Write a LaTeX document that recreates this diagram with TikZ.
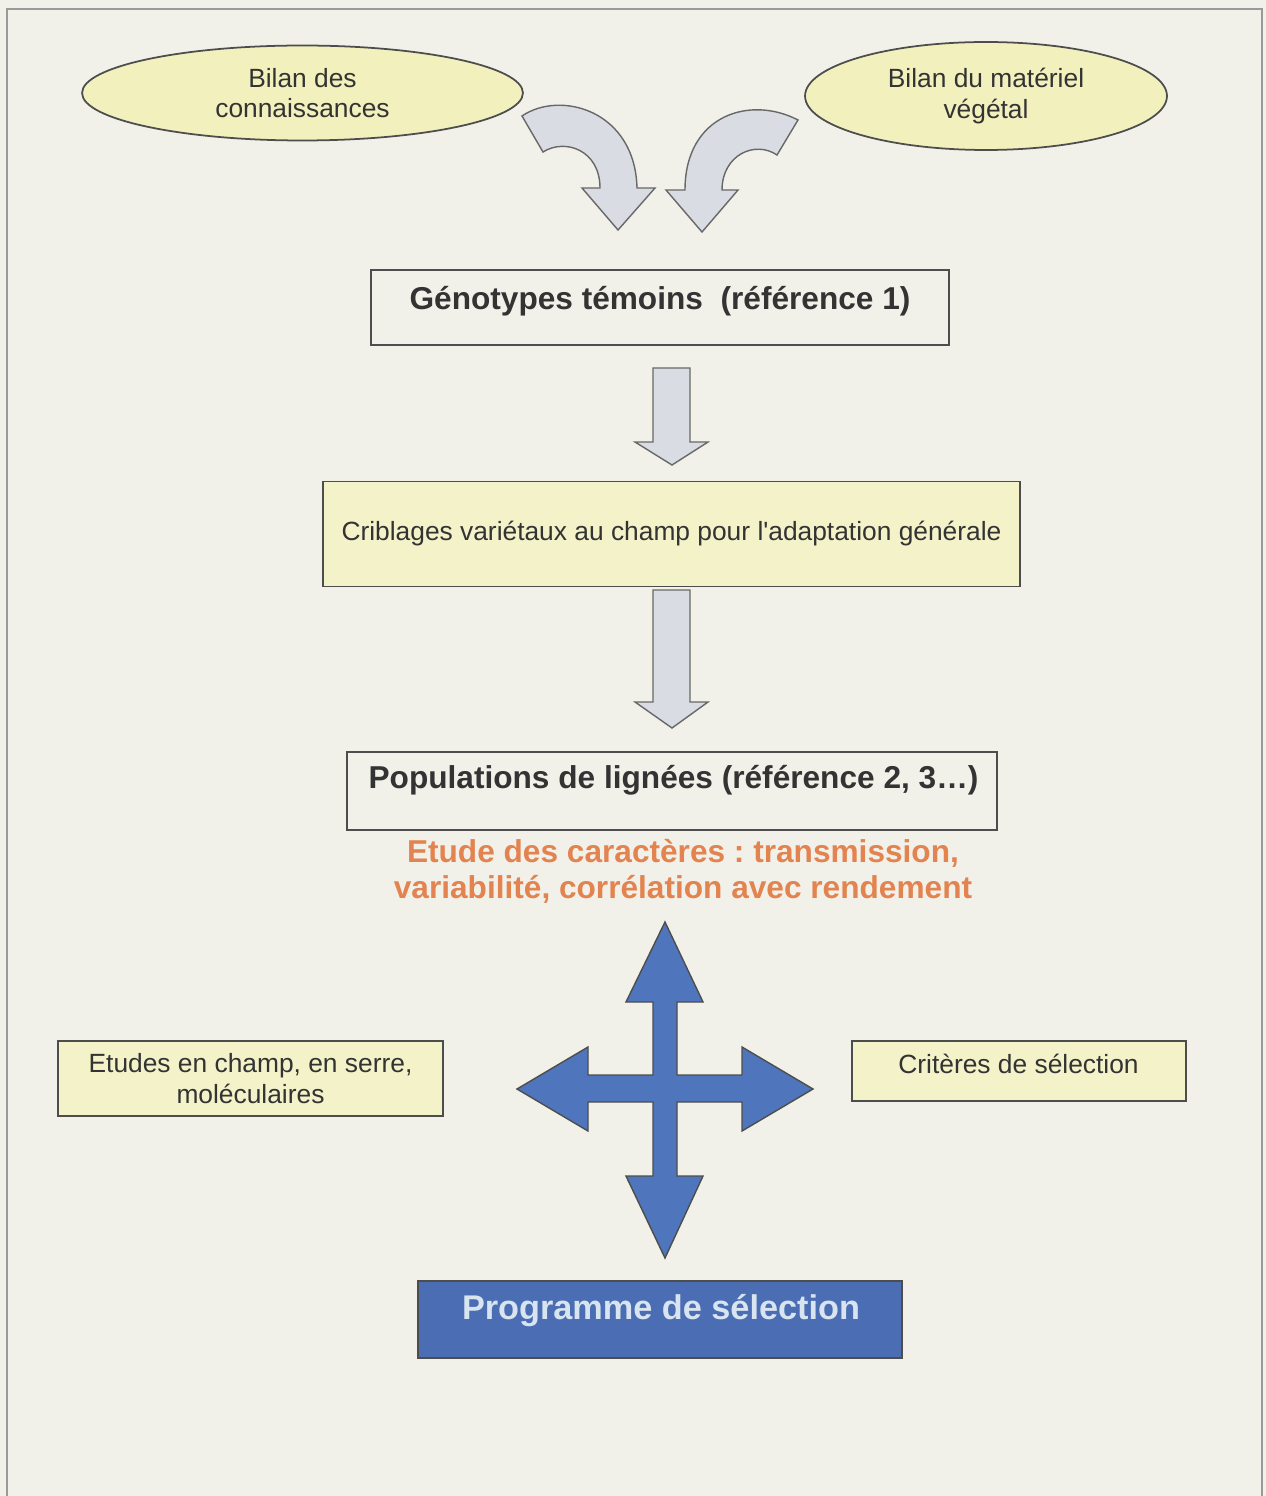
\documentclass[tikz,border=0pt]{standalone}
\usepackage{fontspec}
\setmainfont{Liberation Sans}[Ligatures=TeXOff]
\usetikzlibrary{shapes.geometric}
\definecolor{bg}{HTML}{F1F1EA}
\definecolor{paley}{HTML}{F2F1BE}
\definecolor{boxy}{HTML}{F3F2C8}
\definecolor{arrg}{HTML}{D9DCE3}
\definecolor{blu}{HTML}{4F76BC}
\definecolor{bbox}{HTML}{4B6DB3}
\definecolor{txt}{HTML}{333333}
\definecolor{orng}{HTML}{E3834F}
\definecolor{edge}{HTML}{4D4D4D}
\definecolor{frame}{HTML}{9A9A9A}
\definecolor{progtxt}{HTML}{D8E4F0}
\frenchspacing
\begin{document}
\begin{tikzpicture}[x=0.02cm,y=-0.02cm,
  ell/.style={ellipse, draw=edge, line width=1pt, fill=paley, text=txt, align=center,
    font=\fontsize{15}{17.5}\selectfont, inner sep=0pt},
  plainbox/.style={draw=edge, line width=1.1pt, rectangle, inner sep=0pt},
  ybox/.style={plainbox, fill=boxy},
  lbl/.style={text=txt, align=center, inner sep=0pt, font=\fontsize{15}{17.5}\selectfont},
  blbl/.style={text=txt, align=center, inner sep=0pt, font=\bfseries\fontsize{18}{21}\selectfont},
  block/.style={draw=edge!85, line width=0.8pt, fill=arrg, line join=miter},
  cross/.style={draw=edge, line width=0.8pt, fill=blu, line join=miter}]
% background and frame
\fill[bg] (0,0) rectangle (1266,1496);
\useasboundingbox (0,0) rectangle (1266,1496);
\draw[frame, line width=1.6pt] (7,1500) -- (7,9) -- (1262,9) -- (1262,1500);

% ellipses
\node[ell, minimum width=8.82cm, minimum height=1.9cm] (bilan1) at (302.5,93) {Bilan des\\connaissances};
\node[ell, minimum width=7.24cm, minimum height=2.16cm] (bilan2) at (986,96) {Bilan du matériel\\végétal};

% curved arrows
\draw[block] (522,116) .. controls (560,90) and (635,110) .. (637,188) -- (655,188) -- (618,230)
  -- (582,188) -- (600,188) .. controls (600,150) and (565,138) .. (543,152) -- cycle;
\draw[block] (798,120) .. controls (750,95) and (685,115) .. (685,190) -- (666,190) -- (702,232)
  -- (738,190) -- (722,190) .. controls (722,155) and (755,140) .. (777,155) -- cycle;

% box 1
\node[plainbox, minimum width=11.56cm, minimum height=1.5cm] (g1) at (660,307.5) {};
\node[blbl] (g1t) at (660,301) {Génotypes témoins\ \ (référence 1)};

% arrow 1
\draw[block] (653,368) -- (690,368) -- (690,442) -- (708,442) -- (672,465) -- (635,442) -- (653,442) -- cycle;

% box 2
\node[ybox, minimum width=13.94cm, minimum height=2.1cm, lbl] (crib) at (671.5,534)
  {Criblages variétaux au champ pour l'adaptation générale};

% arrow 2
\draw[block] (653,590) -- (690,590) -- (690,702) -- (708,702) -- (672,728) -- (635,702) -- (653,702) -- cycle;

% box 3
\node[plainbox, minimum width=13cm, minimum height=1.56cm] (pop) at (672,791) {};
\node[blbl] (popt) at (673.5,780) {Populations de lignées (référence 2, 3…)};

% orange text
\node[align=center, inner sep=0pt, text=orng, font=\bfseries\fontsize{18}{20.4}\selectfont] (etude) at (683,871)
  {Etude des caractères : transmission,\\variabilité, corrélation avec rendement};

% four-way arrow
\draw[cross] (665,922) -- (703,1002) -- (677,1002) -- (677,1075) -- (742,1075) -- (742,1047)
  -- (813,1089) -- (742,1131) -- (742,1102) -- (677,1102) -- (677,1176) -- (703,1176)
  -- (665,1258) -- (626,1176) -- (653,1176) -- (653,1102) -- (588,1102) -- (588,1131)
  -- (517,1089) -- (588,1047) -- (588,1075) -- (653,1075) -- (653,1002) -- (626,1002) -- cycle;

% side boxes
\node[ybox, minimum width=7.7cm, minimum height=1.5cm, lbl] (etu) at (250.5,1078.5)
  {Etudes en champ, en serre,\\moléculaires};
\node[ybox, minimum width=6.68cm, minimum height=1.2cm] (crit) at (1019,1071) {};
\node[lbl] (critt) at (1018.5,1064) {Critères de sélection};

% programme box
\node[plainbox, fill=bbox, minimum width=9.68cm, minimum height=1.54cm] (prog) at (660,1319.5) {};
\node[inner sep=0pt, text=progtxt, font=\bfseries\fontsize{19.5}{22}\selectfont] (progt) at (661,1311) {Programme de sélection};
\end{tikzpicture}
\end{document}
